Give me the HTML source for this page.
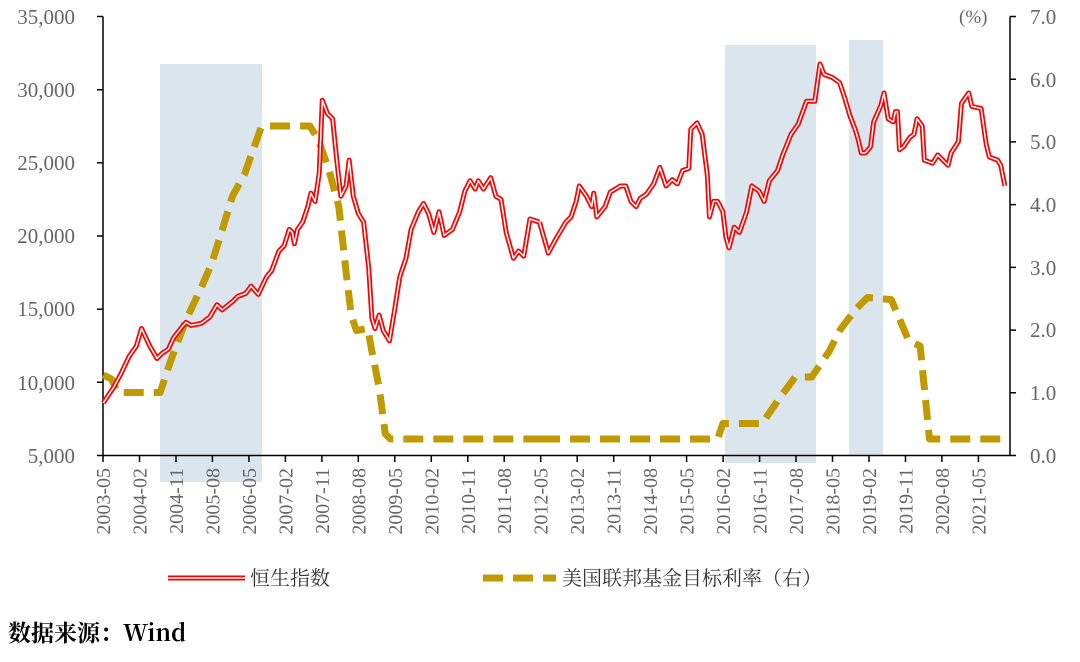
<!DOCTYPE html>
<html><head><meta charset="utf-8"><style>
body{margin:0;background:#fff;width:1080px;height:657px;overflow:hidden}
svg text{font-family:"Liberation Serif","Noto Serif CJK SC",serif;fill:#666}
</style></head><body>
<svg width="1080" height="657" viewBox="0 0 1080 657" xmlns="http://www.w3.org/2000/svg">
<rect x="160" y="64" width="102" height="418" fill="#dae5ed"/>
<rect x="725" y="45" width="91" height="418" fill="#dae5ed"/>
<rect x="849" y="40" width="34" height="415" fill="#dae5ed"/>
<g stroke="#000" stroke-width="1.5" fill="none">
<line x1="103" y1="16.5" x2="103" y2="455.5"/>
<line x1="103" y1="455.5" x2="1010" y2="455.5"/>
<line x1="1010" y1="16.5" x2="1010" y2="455.5"/>
<path d="M97 16.5H103M97 89.7H103M97 162.8H103M97 236H103M97 309.2H103M97 382.3H103M97 455.5H103"/>
<path d="M1010 16.5H1016M1010 79.2H1016M1010 141.9H1016M1010 204.6H1016M1010 267.4H1016M1010 330.1H1016M1010 392.8H1016M1010 455.5H1016"/>
<path d="M103 455v7M139.5 455v7M176 455v7M212.4 455v7M248.9 455v7M285.4 455v7M321.9 455v7M358.3 455v7M394.8 455v7M431.3 455v7M467.8 455v7M504.2 455v7M540.7 455v7M577.2 455v7M613.7 455v7M650.1 455v7M686.6 455v7M723.1 455v7M759.6 455v7M796 455v7M832.5 455v7M869 455v7M905.5 455v7M941.9 455v7M978.4 455v7"/>
</g>
<g font-size="21" text-anchor="end">
<text x="75" y="24">35,000</text><text x="75" y="97">30,000</text><text x="75" y="170">25,000</text><text x="75" y="243">20,000</text><text x="75" y="316">15,000</text><text x="75" y="390">10,000</text><text x="75" y="463">5,000</text>
</g>
<g font-size="21">
<text x="1030" y="24">7.0</text><text x="1030" y="87">6.0</text><text x="1030" y="149">5.0</text><text x="1030" y="212">4.0</text><text x="1030" y="275">3.0</text><text x="1030" y="337">2.0</text><text x="1030" y="400">1.0</text><text x="1030" y="463">0.0</text>
<text x="959" y="23" font-size="19">(%)</text>
</g>
<g font-size="20" text-anchor="end">
<text transform="translate(110,468) rotate(-90)">2003-05</text>
<text transform="translate(146.5,468) rotate(-90)">2004-02</text>
<text transform="translate(183,468) rotate(-90)">2004-11</text>
<text transform="translate(219.4,468) rotate(-90)">2005-08</text>
<text transform="translate(255.9,468) rotate(-90)">2006-05</text>
<text transform="translate(292.4,468) rotate(-90)">2007-02</text>
<text transform="translate(328.9,468) rotate(-90)">2007-11</text>
<text transform="translate(365.3,468) rotate(-90)">2008-08</text>
<text transform="translate(401.8,468) rotate(-90)">2009-05</text>
<text transform="translate(438.3,468) rotate(-90)">2010-02</text>
<text transform="translate(474.8,468) rotate(-90)">2010-11</text>
<text transform="translate(511.2,468) rotate(-90)">2011-08</text>
<text transform="translate(547.7,468) rotate(-90)">2012-05</text>
<text transform="translate(584.2,468) rotate(-90)">2013-02</text>
<text transform="translate(620.7,468) rotate(-90)">2013-11</text>
<text transform="translate(657.1,468) rotate(-90)">2014-08</text>
<text transform="translate(693.6,468) rotate(-90)">2015-05</text>
<text transform="translate(730.1,468) rotate(-90)">2016-02</text>
<text transform="translate(766.6,468) rotate(-90)">2016-11</text>
<text transform="translate(803,468) rotate(-90)">2017-08</text>
<text transform="translate(839.5,468) rotate(-90)">2018-05</text>
<text transform="translate(876,468) rotate(-90)">2019-02</text>
<text transform="translate(912.5,468) rotate(-90)">2019-11</text>
<text transform="translate(948.9,468) rotate(-90)">2020-08</text>
<text transform="translate(985.4,468) rotate(-90)">2021-05</text>
</g>
<g fill="none" stroke="#c09a00" stroke-width="7" stroke-dasharray="20,10" stroke-linejoin="round">
<polyline vector-effect="non-scaling-stroke" transform="matrix(1.033 0 0 1.033 0 0)" points="100,363 108,367 114,380 155,380 165,350 180,310 195,278 205,255 215,223 225,190 237,168 245,145 253,123 255,122 300,122 308,135 318,163 328,200 335,263 340,305 345,320 356,318 360,340 367,375 373,420 378,425 540,425"/>
<polyline vector-effect="non-scaling-stroke" transform="matrix(1.033 0 0 1.033 -17.8 0)" points="540,425 712,425 717,410 755,410 770,388 787,365 803,365 820,340 830,320 845,300 857,288 880,290 897,330 908,335 917,425 995,425"/>
</g>
<g fill="none" stroke-linejoin="round">
<g transform="matrix(1.033 0 0 1.033 0 0)">
<polyline vector-effect="non-scaling-stroke" stroke="#f00" stroke-width="5" points="100,390 110,375 117,362 125,345 132,335 137,318 145,335 152,347 157,342 163,338 168,327 175,318 180,312 185,315 195,313 203,307 210,295 215,300 225,292 230,287 238,284 243,277 250,285 258,268 263,262 270,243 275,238 280,222 283,225 285,236 288,222 293,215 298,200 301,187 305,195 309,168 312,97 317,110 322,115 326,155 330,190 335,180 338,155 342,190 347,207 352,215 357,260 360,308 363,318 367,305 371,320 377,330 382,300 387,268 393,250 398,222 405,205 410,197 415,207 420,225 425,205 430,228 438,222 445,205 450,185 455,175 460,183 463,175 468,183 475,172 480,190 485,193 490,225 497,250 502,243 507,248 513,212 522,215"/>
<polyline vector-effect="non-scaling-stroke" stroke="#fff" stroke-width="1.5" points="100,390 110,375 117,362 125,345 132,335 137,318 145,335 152,347 157,342 163,338 168,327 175,318 180,312 185,315 195,313 203,307 210,295 215,300 225,292 230,287 238,284 243,277 250,285 258,268 263,262 270,243 275,238 280,222 283,225 285,236 288,222 293,215 298,200 301,187 305,195 309,168 312,97 317,110 322,115 326,155 330,190 335,180 338,155 342,190 347,207 352,215 357,260 360,308 363,318 367,305 371,320 377,330 382,300 387,268 393,250 398,222 405,205 410,197 415,207 420,225 425,205 430,228 438,222 445,205 450,185 455,175 460,183 463,175 468,183 475,172 480,190 485,193 490,225 497,250 502,243 507,248 513,212 522,215"/>
</g>
<g transform="matrix(1.033 0 0 1.033 -17.8 0)">
<polyline vector-effect="non-scaling-stroke" stroke="#f00" stroke-width="5" points="539.5,215 548,245 555,232 565,215 570,210 575,195 578,180 585,190 590,200 592,187 595,210 603,200 608,186 618,180 623,180 628,195 633,200 637,192 643,188 650,178 656,162 662,180 668,174 673,178 678,165 684,163 686,125 692,119 697,130 702,170 704,210 708,195 712,195 717,205 720,230 723,240 728,220 733,225 740,205 745,180 752,185 757,195 762,175 770,165 775,150 783,130 790,120 798,98 806,98 811,62 815,72 823,75 830,80 835,95 840,112 845,125 848,135 851,148 855,148 860,142 863,118 870,102 873,90 877,115 882,118 884,108 886,108 888,145 892,142 898,133 902,130 905,115 910,122 912,155 920,158 925,150 930,155 935,160 938,148 945,137 948,100 955,90 958,103 967,105 972,140 975,152 983,155 986,160 990,180"/>
<polyline vector-effect="non-scaling-stroke" stroke="#fff" stroke-width="1.5" points="539.5,215 548,245 555,232 565,215 570,210 575,195 578,180 585,190 590,200 592,187 595,210 603,200 608,186 618,180 623,180 628,195 633,200 637,192 643,188 650,178 656,162 662,180 668,174 673,178 678,165 684,163 686,125 692,119 697,130 702,170 704,210 708,195 712,195 717,205 720,230 723,240 728,220 733,225 740,205 745,180 752,185 757,195 762,175 770,165 775,150 783,130 790,120 798,98 806,98 811,62 815,72 823,75 830,80 835,95 840,112 845,125 848,135 851,148 855,148 860,142 863,118 870,102 873,90 877,115 882,118 884,108 886,108 888,145 892,142 898,133 902,130 905,115 910,122 912,155 920,158 925,150 930,155 935,160 938,148 945,137 948,100 955,90 958,103 967,105 972,140 975,152 983,155 986,160 990,180"/>
</g>
</g>
<line x1="168" y1="578" x2="245" y2="578" stroke="#f00" stroke-width="5"/>
<line x1="168" y1="578" x2="245" y2="578" stroke="#fff" stroke-width="1.5"/>
<text x="250" y="585" font-size="20" style="font-family:'Noto Serif CJK SC',serif;fill:#333">恒生指数</text>
<line x1="483" y1="578" x2="556" y2="578" stroke="#c09a00" stroke-width="7" stroke-dasharray="20,10"/>
<text x="562" y="585" font-size="20" style="font-family:'Noto Serif CJK SC',serif;fill:#333">美国联邦基金目标利率（右）</text>
<text x="8" y="641" font-size="23" style="font-family:'Noto Serif CJK SC',serif;fill:#000;font-weight:bold">数据来源：Wind</text>
</svg>
</body></html>
